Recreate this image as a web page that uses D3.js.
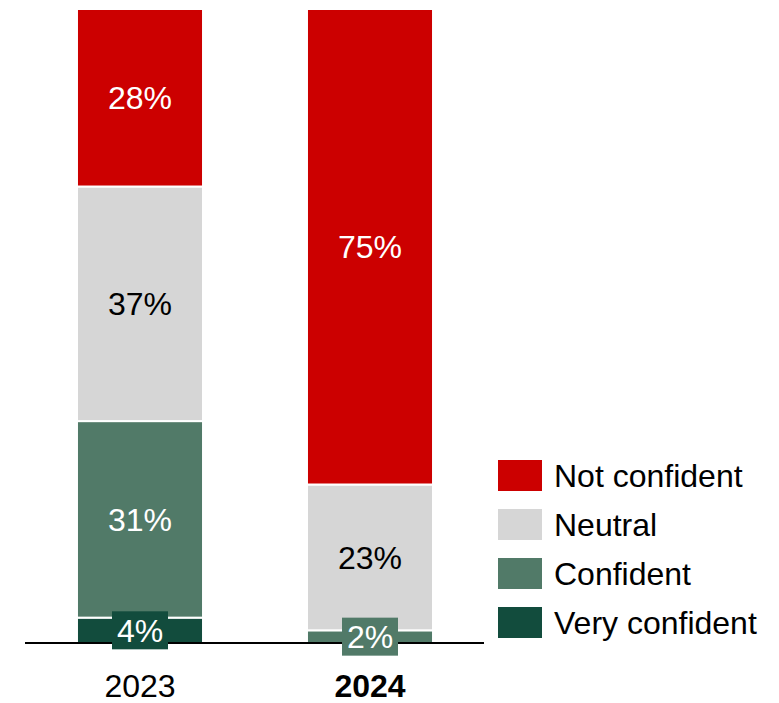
<!DOCTYPE html>
<html>
<head>
<meta charset="utf-8">
<script src="https://cdn.jsdelivr.net/npm/d3@7"></script>
<style>
  html, body { margin: 0; padding: 0; background: #fff; }
  svg text { font-family: "Liberation Sans", Arial, sans-serif; }
</style>
</head>
<body>
<svg id="chart" width="779" height="703"></svg>
<script>
// Survey years and confidence levels (stacked bottom to top)
const years = ["2023", "2024"];
const levels = ["Very confident", "Confident", "Neutral", "Not confident"];
const veryConfident = [4, 0];
const confident = [31, 2];
const neutral = [37, 23];
const notConfident = [28, 75];
const levelColors = ["#124C3D", "#517A68", "#D6D6D6", "#CC0000"];
const labelColors = ["#ffffff", "#ffffff", "#000000", "#ffffff"];

const seriesValues = [veryConfident, confident, neutral, notConfident];
const rows = years.map((y, i) => {
  const r = { year: y };
  levels.forEach((l, j) => { r[l] = seriesValues[j][i]; });
  return r;
});

const svg = d3.select("#chart");

const x = d3.scaleBand().domain(years).range([25, 485]).paddingInner(0.452).paddingOuter(0.226);
const y = d3.scaleLinear().domain([0, 100]).range([643, 9]);
const color = d3.scaleOrdinal().domain(levels).range(levelColors);
const textColor = d3.scaleOrdinal().domain(levels).range(labelColors);

const stacked = d3.stack().keys(levels)(rows);

// Bar segments
const layers = svg.append("g").selectAll("g")
  .data(stacked).join("g")
  .attr("fill", d => color(d.key));

layers.selectAll("rect")
  .data(d => d.filter(p => p[1] - p[0] > 0))
  .join("rect")
  .attr("x", d => x(d.data.year))
  .attr("width", x.bandwidth())
  .attr("y", d => y(d[1]))
  .attr("height", d => y(d[0]) - y(d[1]))
  .attr("stroke", "#fff")
  .attr("stroke-width", 2);

// Baseline
svg.append("line")
  .attr("x1", 25).attr("x2", 484)
  .attr("y1", y(0)).attr("y2", y(0))
  .attr("stroke", "#000").attr("stroke-width", 2);

// Value labels
const fontSize = 32;
const labelG = svg.append("g");
stacked.forEach(layer => {
  layer.forEach(p => {
    const v = p[1] - p[0];
    if (v <= 0) return;
    const cx = x(p.data.year) + x.bandwidth() / 2;
    const cy = (y(p[0]) + y(p[1])) / 2;
    const small = v < 10;
    if (small) {
      labelG.append("rect")
        .attr("x", cx - 28).attr("y", cy - 19)
        .attr("width", 56).attr("height", 38)
        .attr("fill", color(layer.key));
    }
    labelG.append("text")
      .attr("x", cx).attr("y", cy)
      .attr("dy", "0.36em")
      .attr("text-anchor", "middle")
      .attr("font-size", fontSize)
      .attr("fill", textColor(layer.key))
      .text(v + "%");
  });
});

// Year labels
svg.append("g").selectAll("text")
  .data(years).join("text")
  .attr("x", d => x(d) + x.bandwidth() / 2)
  .attr("y", 697)
  .attr("text-anchor", "middle")
  .attr("font-size", fontSize)
  .attr("font-weight", (d, i) => i === years.length - 1 ? "bold" : "normal")
  .attr("fill", "#000")
  .text(d => d);

// Legend (top to bottom: Not confident first)
const legendItems = levels.slice().reverse();
const legend = svg.append("g").selectAll("g")
  .data(legendItems).join("g")
  .attr("transform", (d, i) => `translate(498, ${460 + i * 49})`);
legend.append("rect")
  .attr("width", 44).attr("height", 31)
  .attr("fill", d => color(d));
legend.append("text")
  .attr("x", 56).attr("y", 15.5)
  .attr("dy", "0.36em")
  .attr("font-size", fontSize)
  .attr("fill", "#000")
  .text(d => d);
</script>
</body>
</html>
